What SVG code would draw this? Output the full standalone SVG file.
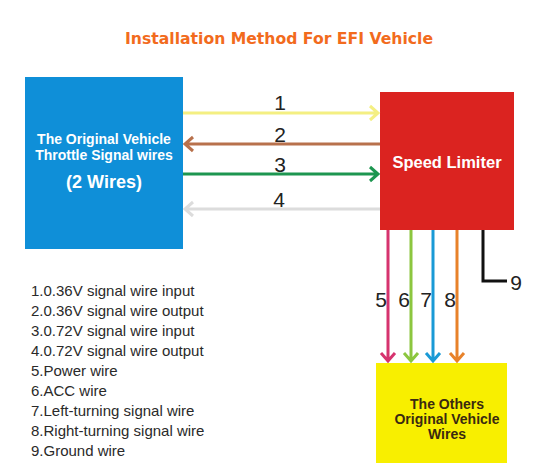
<svg xmlns="http://www.w3.org/2000/svg" width="547" height="473" viewBox="0 0 547 473">
<style>
.t{font-family:"Liberation Sans",Arial,sans-serif}
.b{font-weight:bold}
.num{font-family:"Liberation Sans",Arial,sans-serif;font-size:21px;fill:#222;text-anchor:middle}
.leg{font-family:"Liberation Sans",Arial,sans-serif;font-size:15px;fill:#2a2a2a}
.w{fill:none;stroke-width:3}
</style>
<rect width="547" height="473" fill="#fff"/>
<text x="279" y="44" text-anchor="middle" font-family="'DejaVu Sans',sans-serif" font-weight="bold" font-size="16" textLength="308" lengthAdjust="spacingAndGlyphs" fill="#f26b1d">Installation Method For EFI Vehicle</text>
<g id="throttle">
<rect x="25" y="77" width="158" height="172" fill="#0f8fd8"/>
<text class="t b" x="104" y="144" text-anchor="middle" font-size="14" fill="#fff">The Original Vehicle</text>
<text class="t b" x="104" y="160" text-anchor="middle" font-size="14" fill="#fff">Throttle Signal wires</text>
<text class="t b" x="104" y="188" text-anchor="middle" font-size="18" fill="#fff">(2 Wires)</text>
</g>
<g id="limiter">
<rect x="380" y="92" width="134" height="138" fill="#db2320"/>
<text class="t b" x="447" y="168" text-anchor="middle" font-size="16.5" fill="#fff">Speed Limiter</text>
</g>
<g id="others">
<rect x="376" y="363" width="131" height="100" fill="#f8ef00"/>
<text class="t b" x="447" y="409" text-anchor="middle" font-size="14" fill="#3a2a10">The Others</text>
<text class="t b" x="447" y="424" text-anchor="middle" font-size="14" fill="#3a2a10">Original Vehicle</text>
<text class="t b" x="447" y="439" text-anchor="middle" font-size="14" fill="#3a2a10">Wires</text>
</g>
<g id="connectors">
<path class="w" stroke="#f4ef82" d="M183 113H378M370 106l8 7-8 7"/>
<path class="w" stroke="#b8714c" d="M380 144H185M193 137l-8 7 8 7"/>
<path class="w" stroke="#1d9650" d="M183 174H378M370 167l8 7-8 7"/>
<path class="w" stroke="#dcdcdc" d="M380 209H185M193 202l-8 7 8 7"/>
<path class="w" stroke="#d6336e" d="M388 230V361M381 353l7 8 7-8"/>
<path class="w" stroke="#8cc63f" d="M411 230V361M404 353l7 8 7-8"/>
<path class="w" stroke="#1a9ad6" d="M433 230V361M426 353l7 8 7-8"/>
<path class="w" stroke="#e8822a" d="M457 230V361M450 353l7 8 7-8"/>
<path class="w" stroke="#111" d="M483 230V281H507"/>
</g>
<g id="labels">
<text class="num" x="280" y="110">1</text>
<text class="num" x="280" y="142">2</text>
<text class="num" x="280" y="172">3</text>
<text class="num" x="279" y="207">4</text>
<text class="num" x="381" y="307">5</text>
<text class="num" x="404" y="307">6</text>
<text class="num" x="426" y="307">7</text>
<text class="num" x="450" y="307">8</text>
<text class="num" x="516" y="290">9</text>
</g>
<g id="legend">
<text class="leg" x="31" y="296">1.0.36V signal wire input</text>
<text class="leg" x="31" y="316">2.0.36V signal wire output</text>
<text class="leg" x="31" y="336">3.0.72V signal wire input</text>
<text class="leg" x="31" y="356">4.0.72V signal wire output</text>
<text class="leg" x="31" y="376">5.Power wire</text>
<text class="leg" x="31" y="396">6.ACC wire</text>
<text class="leg" x="31" y="416">7.Left-turning signal wire</text>
<text class="leg" x="31" y="436">8.Right-turning signal wire</text>
<text class="leg" x="31" y="456">9.Ground wire</text>
</g>
</svg>
